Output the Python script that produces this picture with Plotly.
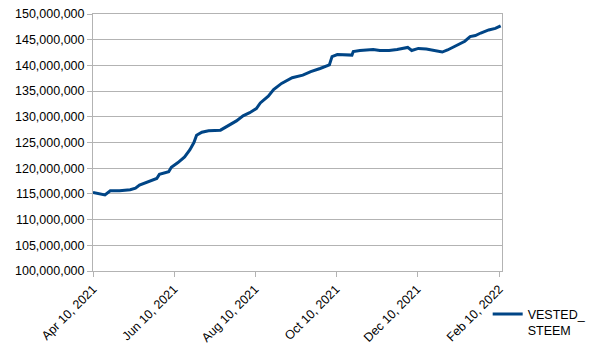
import datetime as dt
import plotly.graph_objects as go

start = dt.date(2021, 4, 10)
day_offsets = [0, 4, 9, 13, 20, 28, 32, 35, 43, 48, 50, 57, 59, 64, 69, 73, 76, 78, 82, 87,
               96, 101, 108, 113, 118, 123, 126, 132, 136, 142, 150, 158, 164, 171, 178, 180,
               184, 195, 196, 201, 211, 216, 223, 229, 234, 237, 240, 245, 251, 259, 263, 267,
               272, 277, 280, 284, 288, 292, 298, 303, 307]
vested_steem = [115.3, 115.1, 114.8, 115.6, 115.6, 115.8, 116.1, 116.7, 117.5, 118.0, 118.8,
                119.3, 120.2, 121.1, 122.2, 123.6, 125.0, 126.4, 127.0, 127.3, 127.4, 128.2,
                129.2, 130.2, 130.8, 131.6, 132.7, 134.0, 135.3, 136.5, 137.6, 138.1, 138.8,
                139.4, 140.1, 141.7, 142.1, 142.0, 142.7, 142.9, 143.1, 142.9, 142.9, 143.1,
                143.3, 143.5, 142.9, 143.3, 143.2, 142.7, 142.6, 143.0, 143.6, 144.3, 144.7,
                145.6, 145.8, 146.3, 146.9, 147.2, 147.7]
dates = [start + dt.timedelta(days=d) for d in day_offsets]
values = [v * 1e6 for v in vested_steem]

x_tick_vals = ["2021-04-10", "2021-06-10", "2021-08-10", "2021-10-10", "2021-12-10", "2022-02-10"]
x_tick_text = ["Apr 10, 2021", "Jun 10, 2021", "Aug 10, 2021", "Oct 10, 2021", "Dec 10, 2021", "Feb 10, 2022"]
y_tick_vals = [100e6 + 5e6 * i for i in range(11)]
y_tick_text = [f"{int(v):,}" for v in y_tick_vals]

fig = go.Figure()
fig.add_trace(go.Scatter(x=dates, y=values, mode="lines", name="VESTED_<br>STEEM",
                         line=dict(color="#004586", width=3)))

grid = "#b3b3b3"
fig.update_layout(
    width=604, height=354,
    margin=dict(l=93, r=102, t=14, b=83, autoexpand=False),
    paper_bgcolor="white", plot_bgcolor="white",
    font=dict(family="Liberation Sans, Arial, sans-serif", size=12, color="#000000"),
    showlegend=True,
    legend=dict(x=0.965, y=-0.11, xanchor="left", yanchor="top", valign="top",
                font=dict(size=12.5), bgcolor="rgba(0,0,0,0)", tracegroupgap=0),
    xaxis=dict(range=["2021-04-10", "2022-02-12"], tickvals=x_tick_vals, ticktext=x_tick_text,
               tickangle=-45, showgrid=False, showline=True, linecolor=grid, mirror=True,
               ticks="outside", ticklen=5, tickcolor=grid, zeroline=False, automargin=False,
               tickfont=dict(size=12.5)),
    yaxis=dict(range=[100e6, 150e6], tickvals=y_tick_vals, ticktext=y_tick_text,
               showgrid=True, gridcolor=grid, showline=True, linecolor=grid, mirror=True,
               ticks="outside", ticklen=5, tickcolor=grid, zeroline=False, automargin=False,
               tickfont=dict(size=12.5)),
)
fig.write_html("out.html")
